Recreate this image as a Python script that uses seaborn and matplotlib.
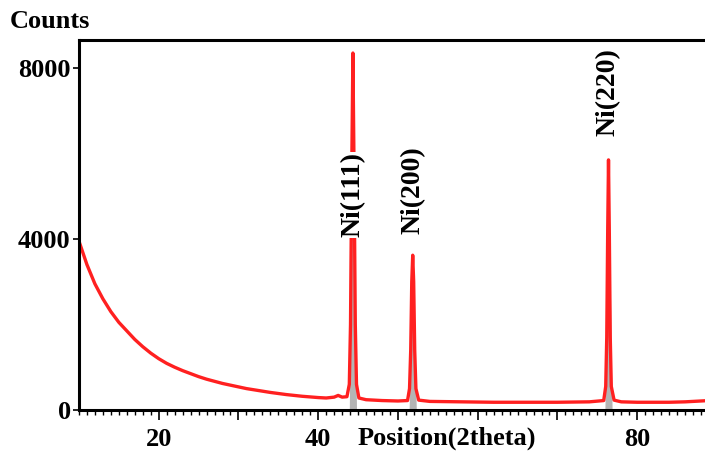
import numpy as np
import pandas as pd
import matplotlib
matplotlib.use("Agg")
import matplotlib.pyplot as plt
from matplotlib.ticker import MultipleLocator
import seaborn as sns

# XRD pattern (2theta, counts)
two_theta = [10, 11, 12, 13, 14, 15, 16, 17, 18, 19, 20, 21, 22, 23, 24, 25, 26, 27, 28,
             29, 30, 31, 32, 33, 34, 35, 36, 37, 38, 39, 40, 41, 42, 42.5, 43, 43.6,
             43.9, 44.05, 44.2, 44.35, 44.5, 44.65, 44.8, 45.1, 46, 47, 48, 49, 50, 51.2,
             51.45, 51.6, 51.73, 51.85, 51.97, 52.1, 52.25, 52.6, 54, 56, 58, 60, 62, 64,
             66, 68, 70, 72, 74, 75.8, 76.05, 76.18, 76.3, 76.4, 76.5, 76.62, 76.75, 77.1,
             78, 80, 82, 84, 86, 87, 88, 88.5]
counts = [3950, 3400, 2950, 2600, 2300, 2050, 1850, 1650, 1480, 1330, 1200, 1090, 1000,
          920, 850, 780, 720, 670, 620, 580, 540, 500, 470, 440, 410, 385, 360, 340, 320,
          305, 290, 280, 300, 340, 300, 310,
          600, 2000, 5500, 8350, 5500, 2000, 600, 280, 240, 230, 220, 215, 210, 220,
          500, 1400, 3000, 3620, 3000, 1400, 500, 230, 200, 195, 190, 185, 180, 180,
          180, 180, 180, 185, 190, 220, 550, 1700, 4200, 5850, 4200, 1700, 550, 230,
          190, 180, 180, 180, 190, 200, 210, 215]

# reference peak sticks (grey) and their labels
peak_pos = [44.35, 51.85, 76.4]
peak_height = [8350, 3620, 5850]
peak_names = ["Ni(111)", "Ni(200)", "Ni(220)"]
label_y = [5030, 5150, 7440]

df = pd.DataFrame({"theta": two_theta, "counts": counts})

sns.set_style("ticks")
plt.rcParams["font.family"] = ["Liberation Serif", "DejaVu Serif"]
plt.rcParams["font.weight"] = "bold"
plt.rcParams["text.color"] = "black"

fig = plt.figure(figsize=(7.05, 4.51), dpi=100)
ax = fig.add_axes([0.112, 0.091, 0.888, 0.8203])

# grey sticks under the peaks
for pos, h in zip(peak_pos, peak_height):
    ax.fill_between([pos - 0.45, pos, pos + 0.45], [0, h, 0], color="#b4b4b4", lw=0, zorder=1)

sns.lineplot(data=df, x="theta", y="counts", color="#ff2020", lw=2.4,
             estimator=None, sort=False, ax=ax, zorder=2)

for pos, ly, name in zip(peak_pos, label_y, peak_names):
    ax.text(pos, ly, name, rotation=90, ha="center", va="center", fontsize=20,
            fontweight="bold", color="black", zorder=3,
            bbox=dict(facecolor="white", edgecolor="none", pad=0.5))

ax.set_xlim(10, 88.5)
ax.set_ylim(0, 8655)
ax.set_xlabel("")
ax.set_ylabel("")

ax.set_xticks([20, 30, 40, 50, 60, 70, 80])
ax.set_xticklabels(["20", "", "40", "", "", "", "80"])
ax.xaxis.set_minor_locator(MultipleLocator(1))
ax.set_yticks([0, 4000, 8000])
ax.set_yticklabels(["0", "4000", "8000"])

ax.tick_params(axis="x", which="major", direction="out", length=7, width=1.2,
               labelsize=19, pad=6, colors="black")
ax.tick_params(axis="x", which="minor", direction="out", length=3.5, width=1.0,
               colors="black")
ax.tick_params(axis="y", which="major", direction="out", length=4, width=1.2,
               labelsize=19, pad=2, colors="black")
for lab in ax.get_xticklabels() + ax.get_yticklabels():
    lab.set_fontweight("bold")

for side in ["left", "top", "bottom"]:
    ax.spines[side].set_linewidth(2.2)
    ax.spines[side].set_color("black")
ax.spines["right"].set_visible(False)

fig.text(10 / 705, 1 - 22 / 451, "Counts", fontsize=19, fontweight="bold",
         color="black", ha="left", va="center")
fig.text(447 / 705, 1 - 438 / 451, "Position(2theta)", fontsize=19,
         fontweight="bold", color="black", ha="center", va="center")

fig.savefig("out.png", dpi=100)
